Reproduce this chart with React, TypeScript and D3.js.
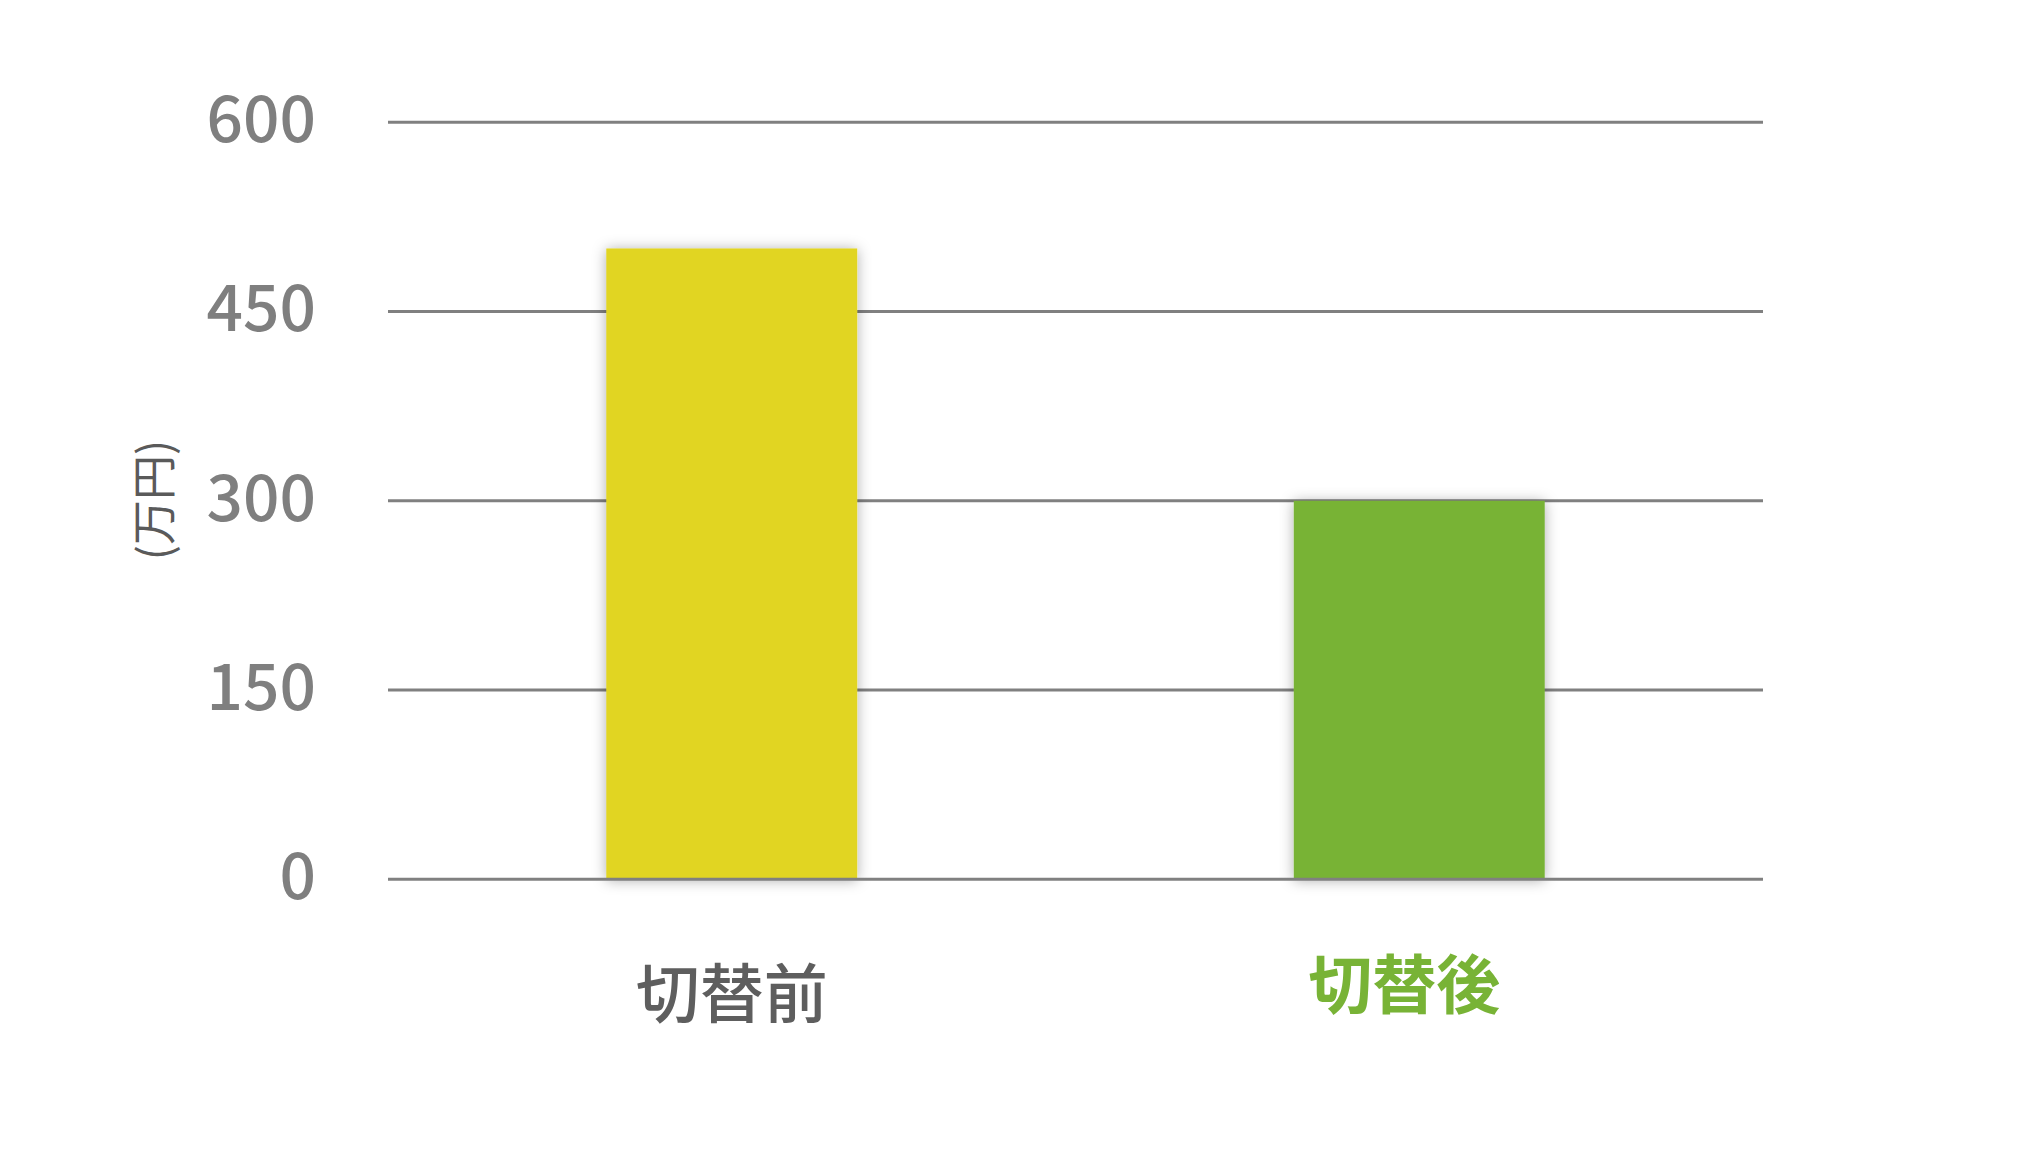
import { useEffect } from 'react'
import * as d3 from 'd3'

// chart data
const categories = ['切替前', '切替後']
const values = [500, 300]
const barColors = ['#e1d524', '#78b336']
const labelColors = ['#5e5e5e', '#78b336']
const yTicks = [0, 150, 300, 450, 600]
const yTitle = '(万円)'

const W = 2024
const H = 1153
const FONT = '"Noto Sans CJK JP", "Noto Sans", sans-serif'

export default function App() {
  useEffect(() => {
    // the page has the default 8px body margin, drop it
    document.body.style.margin = '0'
  }, [])

  const x = d3.scaleBand<string>()
    .domain(categories)
    .range([388, 1763])
    .paddingInner(0.635)
    .paddingOuter(0.3175)

  const y = d3.scaleLinear()
    .domain([0, 600])
    .range([879.3, 122.3])

  return (
    <svg width={W} height={H} viewBox={`0 0 ${W} ${H}`} style={{ display: 'block', background: '#fff' }}>
      <defs>
        <filter id="barShadow" x="-20%" y="-10%" width="140%" height="120%">
          <feDropShadow dx="0" dy="1" stdDeviation="7" floodColor="#000" floodOpacity="0.32" />
        </filter>
      </defs>

      {/* gridlines */}
      {yTicks.filter(t => t !== 0).map(t => (
        <line key={t} x1={x.range()[0]} x2={x.range()[1]} y1={y(t)} y2={y(t)}
          stroke="#808080" strokeWidth={3} />
      ))}

      {/* bars */}
      {categories.map((c, i) => (
        <rect key={c} x={x(c)} y={y(values[i])} width={x.bandwidth()}
          height={y(0) - y(values[i])} fill={barColors[i]} filter="url(#barShadow)" />
      ))}

      {/* baseline on top of the bars */}
      <line x1={x.range()[0]} x2={x.range()[1]} y1={y(0)} y2={y(0)} stroke="#808080" strokeWidth={3} />

      {/* y tick labels */}
      {yTicks.map(t => (
        <text key={t} x={316} y={y(t)} dy="0.31em" textAnchor="end"
          fontFamily={FONT} fontSize={64} fontWeight={500} fill="#7f7f7f">{t}</text>
      ))}

      {/* y axis title */}
      <text transform="translate(171,500) rotate(-90)" textAnchor="middle"
        fontFamily={FONT} fontSize={45} fill="#5a5a5a">{yTitle}</text>

      {/* category labels, the highlighted one sits a little up and left */}
      {categories.map((c, i) => (
        <text key={c}
          x={(x(c) || 0) + x.bandwidth() / 2 + (i === 1 ? -15 : 0)}
          y={y(0) + (i === 1 ? 129 : 138)}
          textAnchor="middle" fontFamily={FONT} fontSize={64}
          fontWeight={i === 1 ? 700 : 500} fill={labelColors[i]}>{c}</text>
      ))}
    </svg>
  )
}
